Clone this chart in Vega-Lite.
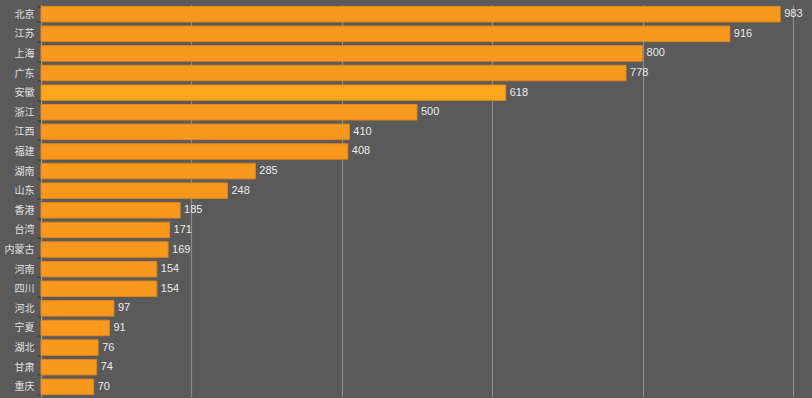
{
  "$schema": "https://vega.github.io/schema/vega-lite/v6.json",
  "autosize": {"type": "none"},
  "width": 752,
  "height": 392,
  "padding": {"left": 41, "top": 4.5, "right": 19, "bottom": 1.5},
  "background": "#5a5a5a",
  "config": {
    "view": {"stroke": null},
    "font": "Liberation Sans, Noto Sans CJK SC, sans-serif"
  },
  "data": {
    "values": [
      {"name": "北京", "value": 983},
      {"name": "江苏", "value": 916},
      {"name": "上海", "value": 800},
      {"name": "广东", "value": 778},
      {"name": "安徽", "value": 618},
      {"name": "浙江", "value": 500},
      {"name": "江西", "value": 410},
      {"name": "福建", "value": 408},
      {"name": "湖南", "value": 285},
      {"name": "山东", "value": 248},
      {"name": "香港", "value": 185},
      {"name": "台湾", "value": 171},
      {"name": "内蒙古", "value": 169},
      {"name": "河南", "value": 154},
      {"name": "四川", "value": 154},
      {"name": "河北", "value": 97},
      {"name": "宁夏", "value": 91},
      {"name": "湖北", "value": 76},
      {"name": "甘肃", "value": 74},
      {"name": "重庆", "value": 70}
    ]
  },
  "encoding": {
    "y": {
      "field": "name",
      "type": "nominal",
      "sort": null,
      "scale": {"paddingInner": 0.21, "paddingOuter": 0.1},
      "axis": {
        "title": null,
        "labelColor": "#e0e0e0",
        "labelFontSize": 10,
        "labelFont": "Noto Sans CJK SC",
        "labelPadding": 3,
        "tickBand": "extent",
        "tickSize": 4,
        "tickColor": "#333333",
        "domainColor": "#9a9a9a",
        "domainWidth": 1
      }
    },
    "x": {
      "field": "value",
      "type": "quantitative",
      "scale": {"domain": [0, 1000]},
      "axis": {
        "title": null,
        "values": [0, 200, 400, 600, 800, 1000],
        "labels": false,
        "ticks": false,
        "domain": false,
        "grid": true,
        "gridColor": "#8c8c8c",
        "gridWidth": 1.2
      }
    }
  },
  "layer": [
    {
      "mark": {"type": "bar", "stroke": "#e0861a", "strokeWidth": 1},
      "encoding": {
        "color": {
          "condition": {"test": "datum.name === '安徽'", "value": "#fca61b"},
          "value": "#f8991e"
        }
      }
    },
    {
      "mark": {"type": "text", "align": "left", "baseline": "middle", "dx": 4, "fontSize": 11, "color": "#ececec"},
      "encoding": {
        "text": {"field": "value", "type": "quantitative"}
      }
    }
  ]
}
